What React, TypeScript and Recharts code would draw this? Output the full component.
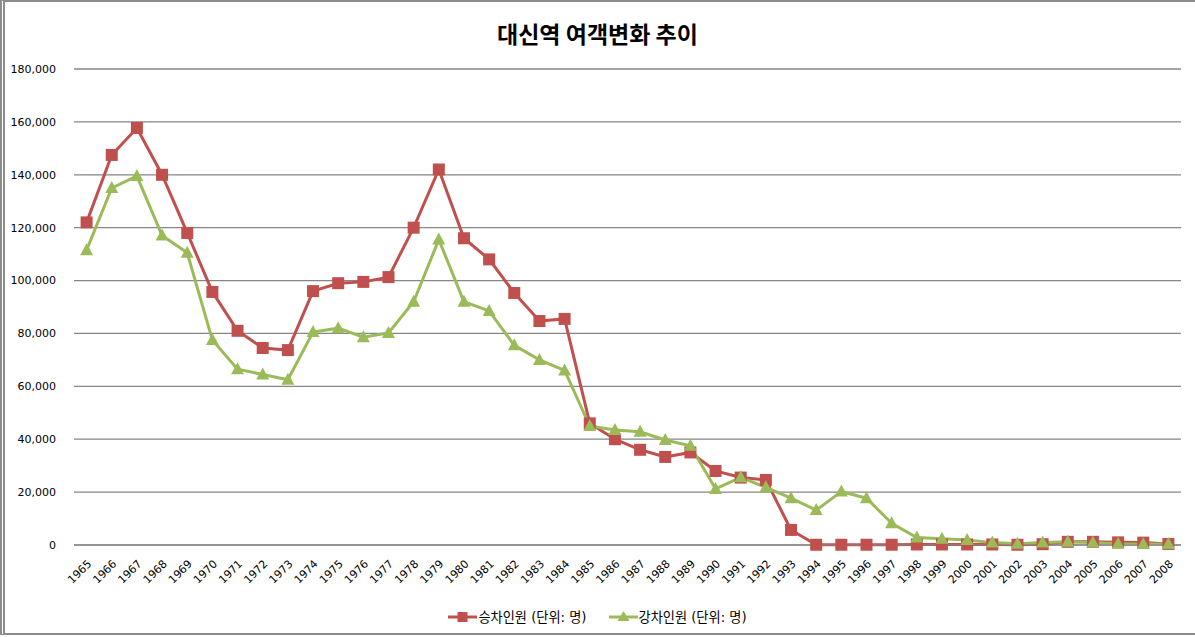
import { CartesianGrid, Legend, Line, LineChart, XAxis, YAxis } from "recharts"

const years = [
  "1965", "1966", "1967", "1968", "1969", "1970", "1971", "1972", "1973", "1974",
  "1975", "1976", "1977", "1978", "1979", "1980", "1981", "1982", "1983", "1984",
  "1985", "1986", "1987", "1988", "1989", "1990", "1991", "1992", "1993", "1994",
  "1995", "1996", "1997", "1998", "1999", "2000", "2001", "2002", "2003", "2004",
  "2005", "2006", "2007", "2008",
]

const boarding = [
  122000, 147500, 157700, 140000, 118000, 95700, 81000, 74500, 73700, 96000,
  99000, 99500, 101300, 120000, 142000, 116000, 108000, 95300, 84700, 85500,
  46000, 40000, 36000, 33300, 35000, 28000, 25500, 24600, 5700, 100,
  100, 100, 100, 200, 200, 200, 200, 100, 300, 1200,
  1200, 1000, 900, 400,
]

const alighting = [
  111500, 135000, 139500, 117000, 110500, 77500, 66500, 64500, 62500, 80500,
  82000, 78600, 80200, 92000, 115500, 92000, 88500, 75500, 70000, 66000,
  45000, 43500, 42800, 39700, 37500, 21200, 25600, 21800, 17700, 13200,
  20200, 17700, 8200, 2800, 2400, 1900, 900, 500, 900, 1200,
  900, 500, 400, 400,
]

const yTicks = [0, 20000, 40000, 60000, 80000, 100000, 120000, 140000, 160000, 180000]

const seriesNames = ["승차인원 (단위: 명)", "강차인원 (단위: 명)"]
const RED = "#C0504D"
const GREEN = "#9BBB59"

const data = years.map((year, i) => ({ year, boarding: boarding[i], alighting: alighting[i] }))

const font = '"DejaVu Sans", "Noto Sans CJK KR", sans-serif'

function SquareDot(props: any) {
  const { cx, cy } = props
  if (cx == null || cy == null) return null
  return <rect x={cx - 6} y={cy - 6} width={12} height={12} fill={RED} />
}

function TriangleDot(props: any) {
  const { cx, cy } = props
  if (cx == null || cy == null) return null
  return <polygon points={`${cx},${cy - 7} ${cx + 6.5},${cy + 5} ${cx - 6.5},${cy + 5}`} fill={GREEN} />
}

function LegendContent() {
  const items = [
    { name: seriesNames[0], color: RED, shape: "square" },
    { name: seriesNames[1], color: GREEN, shape: "triangle" },
  ]
  return (
    <div style={{ display: "flex", justifyContent: "center", gap: 22, fontFamily: font, fontSize: 13.2, color: "#000", paddingLeft: 14 }}>
      {items.map((it) => (
        <div key={it.name} style={{ display: "flex", alignItems: "center" }}>
          <svg width={29} height={14} style={{ marginRight: 1 }}>
            <line x1={0} y1={7} x2={29} y2={7} stroke={it.color} strokeWidth={3} />
            {it.shape === "square" ? (
              <rect x={9.5} y={2} width={10} height={10} fill={it.color} />
            ) : (
              <polygon points="14.5,1 20.5,11 8.5,11" fill={it.color} />
            )}
          </svg>
          <span>{it.name}</span>
        </div>
      ))}
    </div>
  )
}

export default function App() {
  return (
    <div style={{ position: "absolute", left: 0, top: 0, width: 1195, height: 637, background: "#fff" }}>
      <div
        style={{
          position: "absolute",
          left: 0,
          top: 0,
          width: 1200,
          height: 635,
          borderTop: "2px solid #8c8c8c",
          borderBottom: "2px solid #8c8c8c",
          borderLeft: "5px double #8c8c8c",
          boxSizing: "border-box",
        }}
      />
      <div
        style={{
          position: "absolute",
          left: 0,
          top: 16,
          width: 1195,
          textAlign: "center",
          fontFamily: '"Noto Sans CJK KR", sans-serif',
          fontWeight: 700,
          fontSize: 23,
          color: "#000",
        }}
      >
        대신역 여객변화 추이
      </div>
      <LineChart width={1195} height={637} data={data} margin={{ top: 69, right: 14, left: 0, bottom: 10 }}>
        <CartesianGrid horizontal vertical={false} stroke="#868686" strokeWidth={1.3} />
        <XAxis
          dataKey="year"
          axisLine={{ stroke: "#868686" }}
          tickLine={false}
          interval={0}
          angle={-45}
          textAnchor="end"
          height={62}
          padding={{ left: 12.6, right: 12.6 }}
          tick={{ fill: "#000", fontSize: 11, fontFamily: font }}
          tickMargin={8}
        />
        <YAxis
          width={74}
          domain={[0, 180000]}
          ticks={yTicks}
          axisLine={false}
          tickLine={false}
          tickMargin={12}
          tickFormatter={(v: number) => v.toLocaleString("en-US")}
          tick={{ fill: "#000", fontSize: 11, fontFamily: font }}
        />
        <Legend verticalAlign="bottom" height={20} content={<LegendContent />} />
        <Line
          type="linear"
          dataKey="boarding"
          name={seriesNames[0]}
          stroke={RED}
          strokeWidth={3}
          dot={<SquareDot />}
          activeDot={false}
          isAnimationActive={false}
        />
        <Line
          type="linear"
          dataKey="alighting"
          name={seriesNames[1]}
          stroke={GREEN}
          strokeWidth={3}
          dot={<TriangleDot />}
          activeDot={false}
          isAnimationActive={false}
        />
      </LineChart>
    </div>
  )
}
